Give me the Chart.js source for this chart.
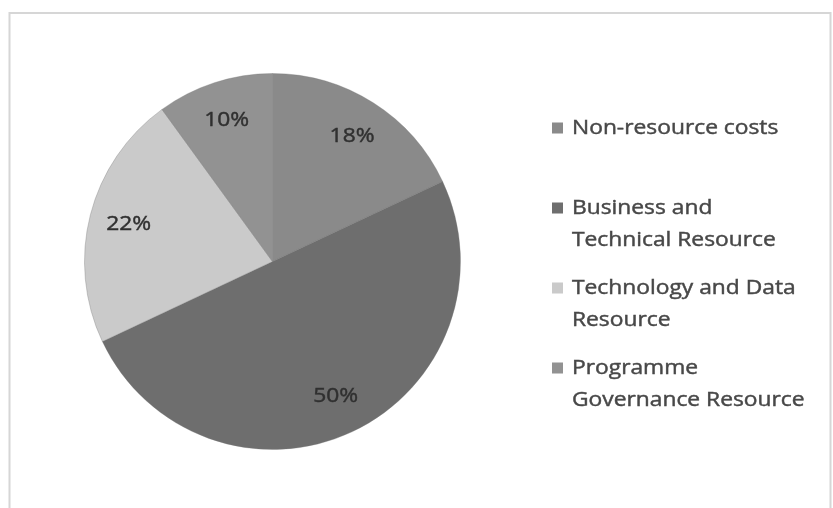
<!DOCTYPE html>
<html>
<head>
<meta charset="utf-8">
<script src="https://cdn.jsdelivr.net/npm/chart.js@4/dist/chart.umd.min.js"></script>
<style>
  html, body { margin: 0; padding: 0; background: #ffffff; }
  #wrap { position: relative; width: 833px; height: 508px; }
</style>
</head>
<body>
<div id="wrap"><canvas id="c" width="833" height="508"></canvas></div>
<script>
// Budget split by cost category (percent of total)
const categories = [
  ['Non-resource costs'],
  ['Business and', 'Technical Resource'],
  ['Technology and Data', 'Resource'],
  ['Programme', 'Governance Resource']
];
const shares = [18, 50, 22, 10];
const sliceColors = ['#8a8a8a', '#6e6e6e', '#cacaca', '#929292'];

const FONT = '"Open Sans", Lato, sans-serif';
const TEXT_STRETCH = 1.14; // slightly wide lettering

// Draw text stretched horizontally around its anchor point, with a light outline for weight
function wideText(ctx, text, x, y) {
  ctx.save();
  ctx.translate(x, y);
  ctx.scale(TEXT_STRETCH, 1);
  ctx.strokeStyle = ctx.fillStyle;
  ctx.lineWidth = 0.45;
  ctx.fillText(text, 0, 0);
  ctx.strokeText(text, 0, 0);
  ctx.restore();
}

// Frame around the whole chart
const framePlugin = {
  id: 'frame',
  beforeDraw(chart) {
    const ctx = chart.ctx;
    ctx.save();
    ctx.fillStyle = '#ffffff';
    ctx.fillRect(0, 0, chart.width, chart.height);
    ctx.strokeStyle = '#d6d6d6';
    ctx.lineWidth = 2;
    ctx.beginPath();
    ctx.moveTo(9.5, 520);
    ctx.lineTo(9.5, 13);
    ctx.lineTo(830.5, 13);
    ctx.lineTo(830.5, 520);
    ctx.stroke();
    ctx.restore();
  }
};

// Percentage labels placed inside each slice
const sliceLabels = {
  id: 'sliceLabels',
  afterDatasetsDraw(chart) {
    const ctx = chart.ctx;
    const meta = chart.getDatasetMeta(0);
    const ds = chart.data.datasets[0];
    const total = ds.data.reduce((a, b) => a + b, 0);
    ctx.save();
    ctx.font = '20px ' + FONT;
    ctx.fillStyle = '#303030';
    ctx.textAlign = 'center';
    ctx.textBaseline = 'middle';
    meta.data.forEach((arc, i) => {
      const p = arc.getProps(['x', 'y', 'startAngle', 'endAngle', 'outerRadius'], true);
      const mid = (p.startAngle + p.endAngle) / 2;
      const r = p.outerRadius * 0.79;
      const pct = Math.round(ds.data[i] / total * 100) + '%';
      wideText(ctx, pct, p.x + Math.cos(mid) * r, p.y + Math.sin(mid) * r);
    });
    ctx.restore();
  }
};

// Legend on the right with wrapped entries
const sideLegend = {
  id: 'sideLegend',
  afterDraw(chart) {
    const ctx = chart.ctx;
    const ds = chart.data.datasets[0];
    const x0 = 552, box = 11, tx = 572;
    const firstY = 128, itemGap = 80, lineGap = 32;
    ctx.save();
    ctx.font = '20px ' + FONT;
    ctx.textBaseline = 'middle';
    ctx.textAlign = 'left';
    chart.data.labels.forEach((lines, i) => {
      const y = firstY + i * itemGap;
      ctx.fillStyle = ds.backgroundColor[i];
      ctx.fillRect(x0, y - box / 2, box, box);
      ctx.fillStyle = '#484848';
      lines.forEach((t, j) => wideText(ctx, t, tx, y + j * lineGap));
    });
    ctx.restore();
  }
};

new Chart(document.getElementById('c'), {
  type: 'pie',
  data: {
    labels: categories,
    datasets: [{
      data: shares,
      backgroundColor: sliceColors,
      borderColor: 'rgba(120,120,120,0.35)',
      borderWidth: 1
    }]
  },
  options: {
    responsive: false,
    animation: false,
    layout: { padding: { left: 84, right: 372, top: 73, bottom: 58 } },
    plugins: {
      legend: { display: false },
      tooltip: { enabled: false }
    }
  },
  plugins: [framePlugin, sliceLabels, sideLegend]
});
</script>
</body>
</html>
